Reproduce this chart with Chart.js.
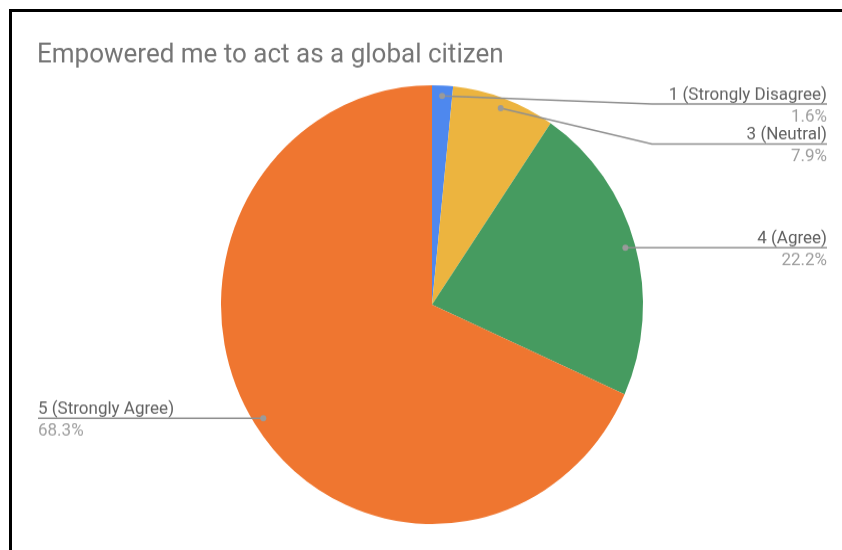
<!DOCTYPE html>
<html>
<head>
<meta charset="utf-8">
<script src="https://cdn.jsdelivr.net/npm/chart.js@4/dist/chart.umd.min.js"></script>
<style>
    html, body { margin: 0; padding: 0; background: #fff; }
    #marco { position: relative; width: 842px; height: 550px; overflow: hidden; }
    #grafica { position: absolute; left: 0; top: 0; }
    #borde {
        position: absolute; left: 9px; top: 9px; right: -20px; bottom: -20px;
        border-left: 3px solid #000; border-top: 3px solid #000;
        pointer-events: none;
    }
</style>
</head>
<body>
<div id="marco">
    <canvas id="grafica" width="842" height="529" style="width:842px;height:550px"></canvas>
    <div id="borde"></div>
</div>
<script>
const titulo = 'Empowered me to act as a global citizen';
const categorias = ['1 (Strongly Disagree)', '3 (Neutral)', '4 (Agree)', '5 (Strongly Agree)'];
const porcentajes = [1.6, 7.9, 22.2, 68.3];
const colores = ['#4e88ee', '#ecb43f', '#469b60', '#ef7630'];

const fuente = 'Roboto, "Noto Sans", sans-serif';

// etiquetas con línea guía al estilo de Google Sheets
const etiquetas = {
    id: 'etiquetas',
    afterDraw(chart) {
        const ctx = chart.ctx;
        const arcos = chart.getDatasetMeta(0).data;
        const derecha = [];
        const izquierda = [];

        arcos.forEach((arco, i) => {
            const p = arco.getProps(['x', 'y', 'startAngle', 'endAngle', 'outerRadius'], true);
            const medio = (p.startAngle + p.endAngle) / 2;
            const r = p.outerRadius - 10;
            const punto = {
                i: i,
                px: p.x + Math.cos(medio) * r,
                py: p.y + Math.sin(medio) * r
            };
            (punto.px >= p.x ? derecha : izquierda).push(punto);
        });

        const colocar = (lista) => {
            lista.sort((a, b) => a.py - b.py);
            let previo = -Infinity;
            lista.forEach((e) => {
                e.ly = Math.max(e.py, 100, previo + 38.5);
                previo = e.ly;
            });
        };
        colocar(derecha);
        colocar(izquierda);

        ctx.save();

        // título
        ctx.font = '26px ' + fuente;
        ctx.fillStyle = '#757575';
        ctx.textAlign = 'left';
        ctx.textBaseline = 'alphabetic';
        ctx.fillText(titulo, 37, 60);

        const dibujar = (e, lado) => {
            const xTexto = lado === 'der' ? 827 : 38;
            const codo = lado === 'der' ? Math.max(652, e.px) : Math.min(200, e.px);

            ctx.strokeStyle = '#8f8f8f';
            ctx.lineWidth = 1.5;
            ctx.beginPath();
            ctx.moveTo(e.px, e.py);
            ctx.lineTo(codo, e.ly);
            ctx.lineTo(xTexto, e.ly);
            ctx.stroke();

            ctx.fillStyle = '#9a9a9a';
            ctx.beginPath();
            ctx.arc(e.px, e.py, 3, 0, Math.PI * 2);
            ctx.fill();

            ctx.textAlign = lado === 'der' ? 'right' : 'left';
            ctx.font = '17px ' + fuente;
            ctx.fillStyle = '#616161';
            ctx.fillText(categorias[e.i], xTexto, e.ly - 4.3);
            ctx.fillStyle = '#9e9e9e';
            ctx.fillText(porcentajes[e.i].toFixed(1) + '%', xTexto, e.ly + 16.8);
        };

        derecha.forEach((e) => dibujar(e, 'der'));
        izquierda.forEach((e) => dibujar(e, 'izq'));

        ctx.restore();
    }
};

document.addEventListener('DOMContentLoaded', function () {
    const canvas = document.getElementById('grafica');

    new Chart(canvas, {
        type: 'pie',
        data: {
            labels: categorias,
            datasets: [{
                data: porcentajes,
                backgroundColor: colores,
                borderWidth: 0
            }]
        },
        options: {
            responsive: false,
            animation: false,
            layout: {
                padding: { left: 221, right: 199, top: 82, bottom: 25 }
            },
            plugins: {
                legend: { display: false },
                tooltip: { enabled: false }
            }
        },
        plugins: [etiquetas]
    });
});
</script>
</body>
</html>
